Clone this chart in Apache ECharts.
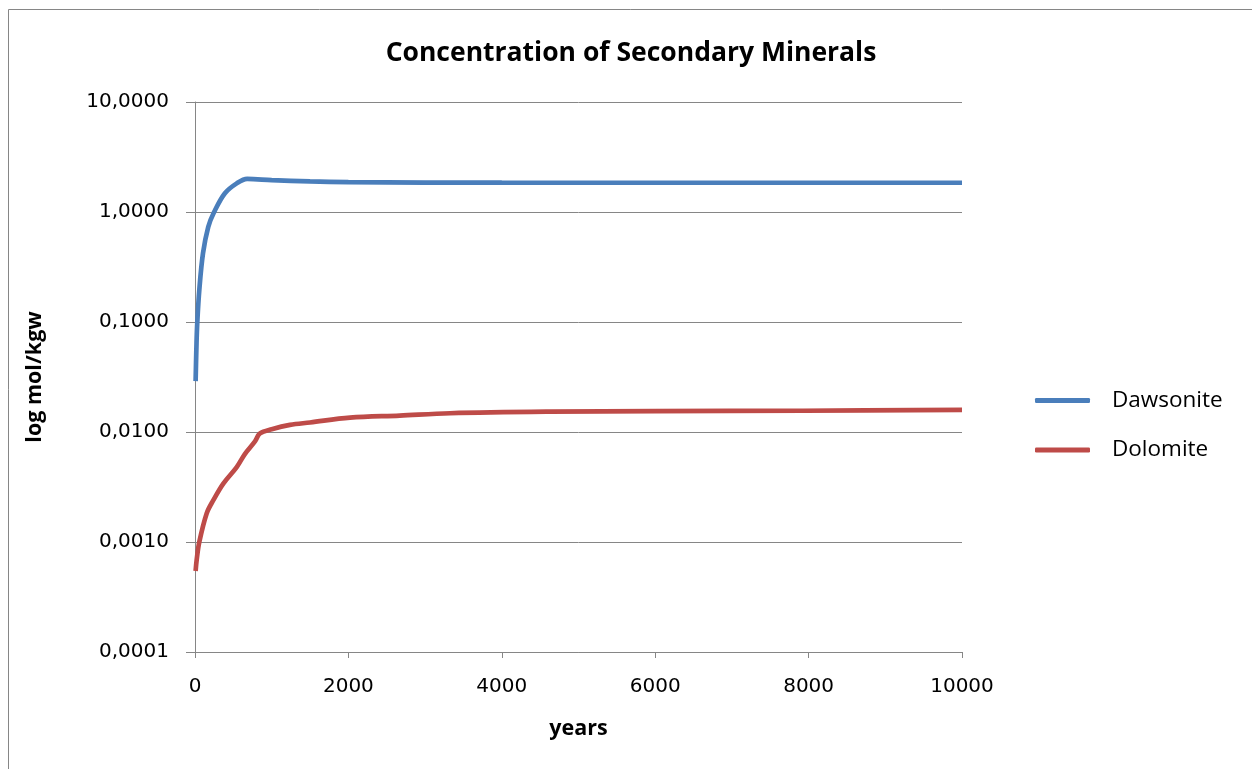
<!DOCTYPE html>
<html>
<head>
<meta charset="utf-8">
<script src="https://cdn.jsdelivr.net/npm/echarts@6/dist/echarts.min.js"></script>
<style>html,body{margin:0;padding:0;background:#fff;}#chart{width:1252px;height:769px;}</style>
</head>
<body>
<div id="chart"></div>
<script>
const titleText = 'Concentration of Secondary Minerals';
const xAxisName = 'years';
const yAxisName = 'log mol/kgw';
const seriesNames = ['Dawsonite', 'Dolomite'];

const dawsoniteYears = [8, 20, 30, 56, 104, 173, 248, 390, 544, 680, 1000, 1500, 2000, 3000, 4000, 6000, 8000, 10000];
const dawsoniteValues = [0.029, 0.065, 0.1, 0.195, 0.42, 0.734, 0.994, 1.48, 1.82, 2.0, 1.95, 1.9, 1.87, 1.85, 1.846, 1.845, 1.845, 1.845];

const dolomiteYears = [8, 22, 56, 152, 239, 369, 544, 650, 782, 847, 1000, 1238, 1500, 2021, 2670, 3325, 4628, 6000, 7927, 10000];
const dolomiteValues = [0.000545, 0.00069, 0.001, 0.00182, 0.0024, 0.0034, 0.0048, 0.0063, 0.0082, 0.0097, 0.0106, 0.0116, 0.0122, 0.0135, 0.0141, 0.0148, 0.0153, 0.0155, 0.0156, 0.0159];

const FONT = 'Open Sans';
const TICKFONT = 'DejaVu Sans';
const GRID = '#868686';

const chart = echarts.init(document.getElementById('chart'), null, {renderer: 'canvas'});
chart.setOption({
  backgroundColor: '#fff',
  animation: false,
  graphic: [{
    type: 'rect', silent: true,
    shape: {x: 8.5, y: 9.5, width: 1400, height: 900},
    style: {fill: 'none', stroke: GRID, lineWidth: 1}
  }],
  title: {
    text: titleText, left: 631, top: 40, textAlign: 'center', padding: 0,
    textStyle: {fontFamily: FONT, fontSize: 26.5, fontWeight: 'bold', color: '#000'}
  },
  legend: {
    orient: 'vertical', left: 1035, top: 389, padding: 0, itemWidth: 55, itemHeight: 5, itemGap: 26.5,
    icon: 'roundRect',
    textStyle: {fontFamily: FONT, fontSize: 22.5, color: '#000', padding: [0, 0, 0, 17]},
    data: seriesNames
  },
  grid: {left: 195, right: 290, top: 102, bottom: 117, containLabel: false},
  xAxis: {
    type: 'value', min: 0, max: 10000, interval: 2000,
    name: xAxisName, nameLocation: 'middle', nameGap: 66,
    nameTextStyle: {fontFamily: FONT, fontSize: 21.5, fontWeight: 'bold', color: '#000'},
    axisLine: {show: true, lineStyle: {color: GRID, width: 1}},
    axisTick: {show: true, length: 6, lineStyle: {color: GRID}},
    axisLabel: {fontFamily: TICKFONT, fontSize: 20, color: '#000', margin: 25,
      formatter: v => String(v)},
    splitLine: {show: false}
  },
  yAxis: {
    type: 'log', logBase: 10, min: 0.0001, max: 10,
    name: yAxisName, nameLocation: 'middle', nameGap: 149, nameRotate: 90,
    nameTextStyle: {fontFamily: FONT, fontSize: 21.5, fontWeight: 'bold', color: '#000'},
    axisLine: {show: true, lineStyle: {color: GRID, width: 1}},
    axisTick: {show: true, length: 9, lineStyle: {color: GRID}},
    axisLabel: {fontFamily: TICKFONT, fontSize: 20, color: '#000', margin: 26,
      formatter: v => v.toFixed(4).replace('.', ',')},
    splitLine: {show: true, lineStyle: {color: GRID, width: 1}}
  },
  series: [
    {
      name: seriesNames[0], type: 'line', smooth: 0.35, symbol: 'none',
      lineStyle: {color: '#4A7EBB', width: 4.7}, itemStyle: {color: '#4A7EBB'},
      data: dawsoniteYears.map((x, i) => [x, dawsoniteValues[i]])
    },
    {
      name: seriesNames[1], type: 'line', smooth: 0.35, symbol: 'none',
      lineStyle: {color: '#BE4B48', width: 4.7}, itemStyle: {color: '#BE4B48'},
      data: dolomiteYears.map((x, i) => [x, dolomiteValues[i]])
    }
  ]
});
</script>
</body>
</html>
